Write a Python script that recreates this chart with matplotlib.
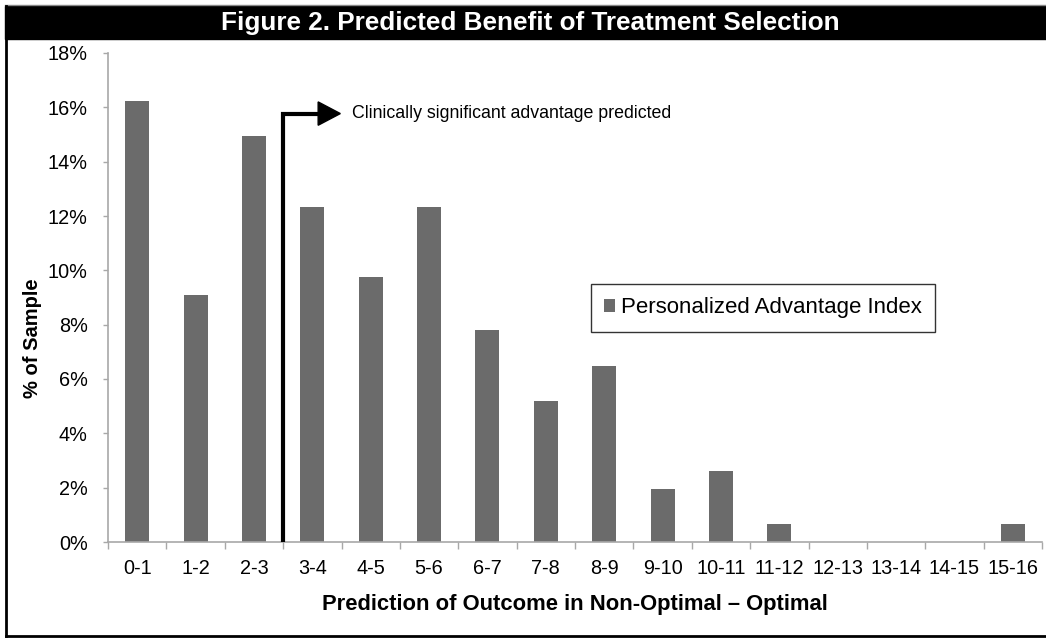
import matplotlib
matplotlib.use("Agg")
import matplotlib.pyplot as plt
from matplotlib.ticker import FixedLocator, FuncFormatter
from matplotlib.patches import Rectangle

plt.rcParams['font.family'] = ['Liberation Sans', 'DejaVu Sans']

# data
categories = ['0-1', '1-2', '2-3', '3-4', '4-5', '5-6', '6-7', '7-8',
              '8-9', '9-10', '10-11', '11-12', '12-13', '13-14', '14-15', '15-16']
pct_sample = [16.23, 9.09, 14.94, 12.34, 9.74, 12.34, 7.79, 5.19,
              6.49, 1.95, 2.60, 0.65, 0.0, 0.0, 0.0, 0.65]
series_name = 'Personalized Advantage Index'
y_ticks = [0, 2, 4, 6, 8, 10, 12, 14, 16, 18]

W, H = 1046, 638
fig = plt.figure(figsize=(W / 100, H / 100), dpi=100)
fig.patch.set_facecolor('white')

# axes placed in pixel terms
left, right, top, bottom = 108, 1042, 53, 542
ax = fig.add_axes([left / W, 1 - bottom / H, (right - left) / W, (bottom - top) / H])

xpos = [i + 0.5 for i in range(len(categories))]
ax.bar(xpos, pct_sample, width=0.41, color='#6b6b6b', label=series_name, zorder=2)

ax.set_xlim(0, len(categories))
ax.set_ylim(0, 18)
ax.set_yticks(y_ticks)
ax.yaxis.set_major_formatter(FuncFormatter(lambda v, p: '%d%%' % v))

# x ticks sit between categories, labels at the centres
ax.xaxis.set_major_locator(FixedLocator(range(len(categories) + 1)))
ax.xaxis.set_major_formatter(FuncFormatter(lambda v, p: ''))
ax.xaxis.set_minor_locator(FixedLocator(xpos))
ax.set_xticklabels(categories, minor=True)
ax.tick_params(axis='x', which='major', length=5, width=1, color='#a8a8a8', direction='out')
ax.tick_params(axis='x', which='minor', length=0, pad=12, labelsize=14.3)
ax.tick_params(axis='y', length=3.6, width=1, color='#a8a8a8', labelsize=14.3, pad=11)

for s in ['top', 'right']:
    ax.spines[s].set_visible(False)
for s in ['left', 'bottom']:
    ax.spines[s].set_color('#a8a8a8')
    ax.spines[s].set_linewidth(1.2)

ax.set_xlabel('Prediction of Outcome in Non-Optimal \u2013 Optimal',
              fontsize=15.8, fontweight='bold', labelpad=12)
fig.text(32 / W, 1 - 338 / H, '% of Sample', rotation=90, fontsize=14.5,
         fontweight='bold', ha='center', va='center')

# "clinically significant" marker between 2-3 and 3-4
arrow_y = 15.77
ax.plot([3, 3, 3.62], [0, arrow_y, arrow_y], color='black', lw=3,
        solid_joinstyle='miter', solid_capstyle='butt', zorder=3, clip_on=False)
ax.fill([3.6, 3.6, 3.98], [arrow_y + 0.43, arrow_y - 0.43, arrow_y],
        color='black', zorder=3, clip_on=False)
ax.text(4.18, arrow_y, 'Clinically significant advantage predicted',
        fontsize=12.8, va='center', ha='left')

leg = ax.legend(loc='upper left', bbox_to_anchor=(591 / W, 1 - 284 / H),
                bbox_transform=fig.transFigure, borderaxespad=0,
                fontsize=16, frameon=True, fancybox=False,
                handlelength=0.5, handleheight=0.5, handletextpad=0.25,
                borderpad=0.6, edgecolor='black')
leg.get_frame().set_linewidth(1.0)

# title bar and outer frame
fig.patches.append(Rectangle((5 / W, 1 - 39 / H), 1 - 5 / W, 33 / H,
                             transform=fig.transFigure, color='black', zorder=0))
fig.add_artist(plt.Line2D([5 / W, 1], [1 - 5 / H, 1 - 5 / H],
                          transform=fig.transFigure, color='#888888', lw=1))
fig.text(530 / W, 1 - 23 / H, 'Figure 2. Predicted Benefit of Treatment Selection',
         color='white', fontsize=18.8, fontweight='bold', ha='center', va='center')
fig.add_artist(plt.Line2D([6 / W, 6 / W], [1 - 636 / H, 1 - 6 / H],
                          transform=fig.transFigure, color='black', lw=2))
fig.add_artist(plt.Line2D([6 / W, 1], [1 - 636 / H, 1 - 636 / H],
                          transform=fig.transFigure, color='black', lw=2))

fig.savefig('out.png', dpi=100)
